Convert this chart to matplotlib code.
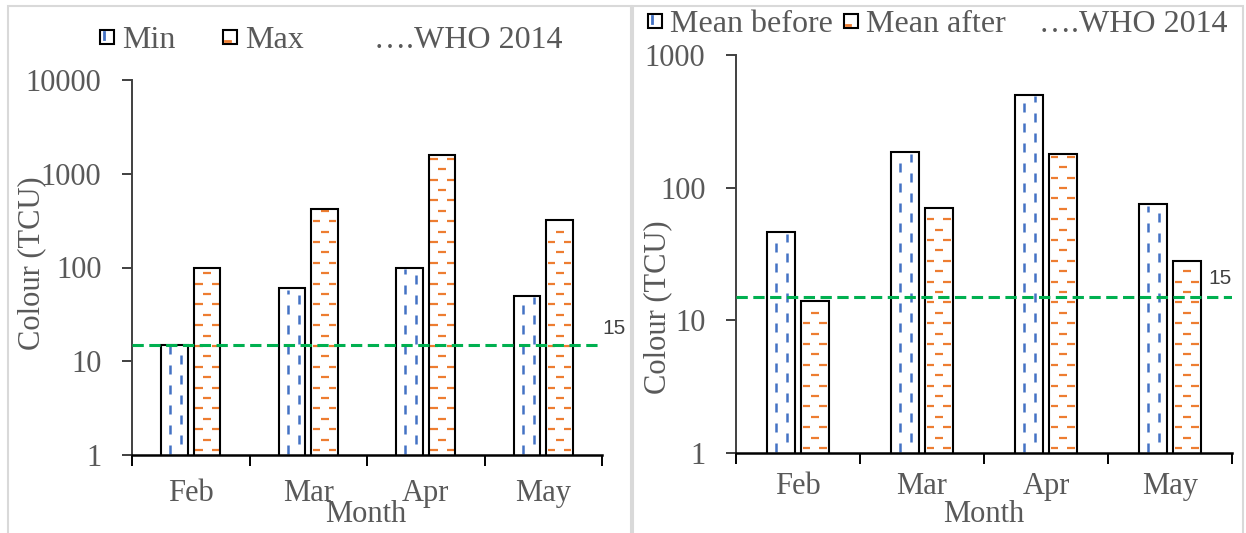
import matplotlib
matplotlib.use("Agg")
import numpy as np
import matplotlib.pyplot as plt
from matplotlib.collections import LineCollection
from matplotlib.transforms import IdentityTransform
from matplotlib.patches import Rectangle
from matplotlib.lines import Line2D
from matplotlib.legend_handler import HandlerBase
from matplotlib.ticker import NullLocator

# ---- data -------------------------------------------------------------
months = ["Feb", "Mar", "Apr", "May"]
colour_min = [15, 60, 100, 50]
colour_max = [100, 420, 1600, 320]
mean_before = [46, 185, 500, 75]
mean_after = [14, 70, 180, 28]
who_2014 = 15

left_ticks = [1, 10, 100, 1000, 10000]
right_ticks = [1, 10, 100, 1000]

# ---- style ------------------------------------------------------------
plt.rcParams["font.family"] = ["Liberation Serif", "DejaVu Serif"]
TEXT = "#595959"
BLUE = "#4472C4"
ORANGE = "#ED7D31"
GREEN = "#00B050"
FS = 22
LFS = 23

W, H = 1246, 533
DPI = 100
fig = plt.figure(figsize=(W / DPI, H / DPI), dpi=DPI)


def add_axes_px(left, top, right, bottom):
    return fig.add_axes([left / W, 1 - bottom / H, (right - left) / W, (bottom - top) / H])


# light panel frames
for (l, t, r, b) in [(8, 6, 631, 560), (633, 6, 1243, 560)]:
    fig.add_artist(Rectangle((l / W, 1 - b / H), (r - l) / W, (b - t) / H,
                             transform=fig.transFigure, fill=False,
                             edgecolor="#D9D9D9", lw=1.5))

ax1 = add_axes_px(132, 80, 602, 455)
ax2 = add_axes_px(736, 55, 1232, 453)


def setup(ax, ticks):
    ax.set_yscale("log")
    ax.set_ylim(ticks[0], ticks[-1])
    ax.set_xlim(-0.5, len(months) - 0.5)
    ax.set_yticks(ticks)
    ax.set_yticklabels([str(t) for t in ticks])
    ax.yaxis.set_minor_locator(NullLocator())
    ax.set_xticks(np.arange(len(months)))
    ax.set_xticklabels(months)
    ax.set_xticks(np.arange(-0.5, len(months)), minor=True)
    ax.tick_params(axis="x", which="major", length=0, labelsize=FS, labelcolor=TEXT)
    ax.tick_params(axis="x", which="minor", length=8, width=1.4, direction="out", color="black")
    ax.tick_params(axis="y", which="major", length=7, width=1.4, pad=15,
                   labelsize=FS, labelcolor=TEXT, color="#404040")
    for s in ("top", "right"):
        ax.spines[s].set_visible(False)
    ax.spines["left"].set_linewidth(1.4)
    ax.spines["left"].set_color("#404040")
    ax.spines["bottom"].set_linewidth(1.8)
    ax.spines["bottom"].set_color("black")
    ax.set_facecolor("none")


setup(ax1, left_ticks)
setup(ax2, right_ticks)
ax1.tick_params(axis="x", which="major", pad=17)
ax2.tick_params(axis="x", which="major", pad=14)

x = np.arange(len(months))
BW = 0.225
OFF = 0.14


def draw_bars(ax, vals, offset):
    fill = ax.bar(x + offset, vals, BW, color="white", edgecolor="none", zorder=2)
    ax.bar(x + offset, vals, BW, fill=False, edgecolor="black", lw=1.5, zorder=3)
    return fill


b_min = draw_bars(ax1, colour_min, -OFF)
b_max = draw_bars(ax1, colour_max, OFF)
b_bef = draw_bars(ax2, mean_before, -OFF)
b_aft = draw_bars(ax2, mean_after, OFF)

fig.canvas.draw()


def pattern(ax, bars, kind, color):
    """Dashed fill pattern in pixel space, cut to the inside of each bar."""
    ybot = ax.bbox.y0
    segs = []
    for patch in bars.patches:
        bb = patch.get_window_extent()
        x0, x1 = bb.x0 + 1.5, bb.x1 - 1.5
        y0, y1 = max(bb.y0, ybot) + 1.0, bb.y1 - 1.5
        if kind == "v":
            cx = bb.x0 + 9.0
            i = 0
            while cx < x1:
                y = y0 - (i % 2) * 10.0
                while y < y1:
                    a, b = max(y, y0), min(y + 9.0, y1)
                    if b > a:
                        segs.append([(cx, a), (cx, b)])
                    y += 20.0
                cx += 11.0
                i += 1
        else:
            y = y0 + 4.0
            j = 0
            while y < y1:
                xs = bb.x0 + (1.0 if j % 2 == 0 else 9.5) - 17.0
                while xs < x1:
                    a, b = max(xs, x0), min(xs + 8.0, x1)
                    if b > a:
                        segs.append([(a, y), (b, y)])
                    xs += 17.0
                y += 10.4
                j += 1
    lw = 1.8 if kind == "v" else 1.6
    lc = LineCollection(segs, colors=color, linewidths=lw,
                        transform=IdentityTransform(), zorder=2.5)
    ax.add_collection(lc, autolim=False)


pattern(ax1, b_min, "v", BLUE)
pattern(ax1, b_max, "h", ORANGE)
pattern(ax2, b_bef, "v", BLUE)
pattern(ax2, b_aft, "h", ORANGE)

# WHO guideline
for ax, (dx, dy) in [(ax1, (0, 12)), (ax2, (-17, 13))]:
    ax.axhline(who_2014, color=GREEN, lw=2.2, ls=(0, (3.7, 1.8)), zorder=4)
    ax.annotate(str(who_2014), xy=(1.0, who_2014), xycoords=("axes fraction", "data"),
                xytext=(dx, dy), textcoords="offset points", ha="left", va="center",
                fontsize=15, color="#404040", family="Liberation Sans")

# axis titles
ax1.set_ylabel("Colour (TCU)", fontsize=FS, color=TEXT, va="center")
ax1.yaxis.set_label_coords(-0.213, 0.512)
ax2.set_ylabel("Colour (TCU)", fontsize=FS, color=TEXT, va="center")
ax2.yaxis.set_label_coords(-0.157, 0.367)
ax1.set_xlabel("Month", fontsize=FS, color=TEXT, va="center")
ax1.xaxis.set_label_coords(0.498, -0.16)
ax2.set_xlabel("Month", fontsize=FS, color=TEXT, va="center")
ax2.xaxis.set_label_coords(0.5, -0.154)


# legends
class Swatch(Rectangle):
    def __init__(self, kind):
        super().__init__((0, 0), 1, 1)
        self.kind = kind


class SwatchHandler(HandlerBase):
    def create_artists(self, legend, orig_handle, xdescent, ydescent,
                       width, height, fontsize, trans):
        s = min(width, height)
        x0 = -xdescent + (width - s) / 2
        y0 = -ydescent + (height - s) / 2
        box = Rectangle((x0, y0), s, s, facecolor="white", edgecolor="black",
                        lw=1.5, transform=trans)
        if orig_handle.kind == "v":
            mark = Line2D([x0 + s * 0.3] * 2, [y0 + s * 0.4, y0 + s * 0.85],
                          color=BLUE, lw=2, transform=trans)
        else:
            mark = Line2D([x0 + s * 0.12, x0 + s * 0.45], [y0 + s * 0.22] * 2,
                          color=ORANGE, lw=2, transform=trans)
        return [box, mark]


blank = Line2D([], [], linestyle="none")
common = dict(frameon=False, fontsize=LFS, labelcolor=TEXT, ncol=3, loc="center left",
              handlelength=0.44, handleheight=0.44, handletextpad=0.25,
              borderpad=0, borderaxespad=0, bbox_transform=fig.transFigure,
              handler_map={Swatch: SwatchHandler()})
leg1 = fig.legend([Swatch("v"), Swatch("h"), blank], ["Min", "Max", "\u2026.WHO 2014"],
                  bbox_to_anchor=(100 / W, 1 - 41 / H), columnspacing=1.5, **common)
leg2 = fig.legend([Swatch("v"), Swatch("h"), blank], ["Mean before", "Mean after", "\u2026.WHO 2014"],
                  bbox_to_anchor=(648 / W, 1 - 25 / H), columnspacing=0.35, **common)

fig.savefig("out.png", dpi=DPI)
